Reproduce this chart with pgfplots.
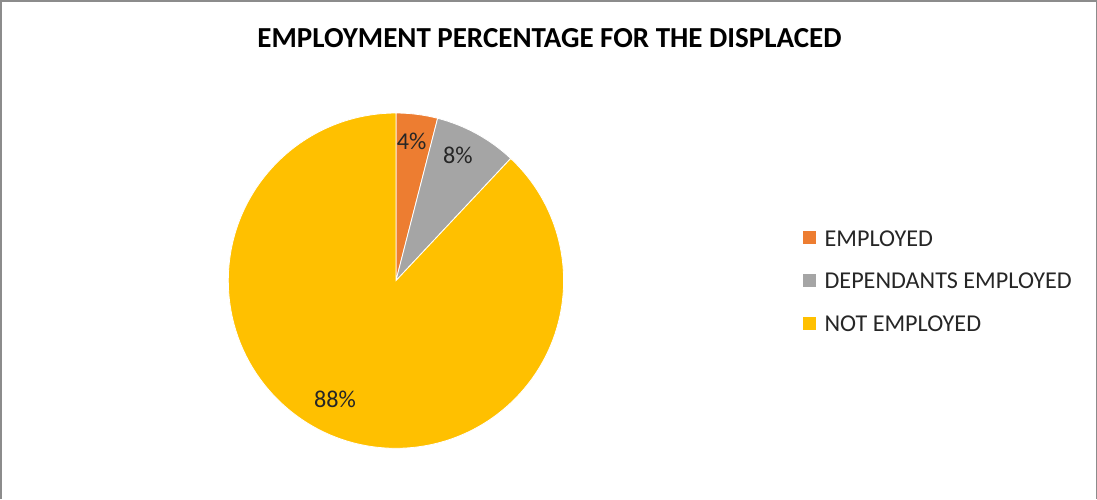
\documentclass[border=0pt]{standalone}
\usepackage{pgfplots}
\usepackage{pgfplotstable}
\pgfplotsset{compat=1.18}
\usepackage{fontspec}
\setmainfont{Carlito}
\definecolor{cOrange}{HTML}{ED7D31}
\definecolor{cGrey}{HTML}{A5A5A5}
\definecolor{cYellow}{HTML}{FFC000}
\definecolor{cText}{HTML}{262626}
\definecolor{cFrame}{HTML}{8C8C8C}
\pgfplotstableread[col sep=comma]{
label,value
EMPLOYED,4
DEPENDANTS EMPLOYED,8
NOT EMPLOYED,88
}\piedata
\begin{document}
\begin{tikzpicture}
\pgfplotstablegetelem{0}{value}\of\piedata \let\va\pgfplotsretval
\pgfplotstablegetelem{1}{value}\of\piedata \let\vb\pgfplotsretval
\pgfplotstablegetelem{2}{value}\of\piedata \let\vc\pgfplotsretval
\pgfmathsetmacro\total{\va+\vb+\vc}
\pgfmathsetmacro\aA{90-\va/\total*360}
\pgfmathsetmacro\aB{\aA-\vb/\total*360}
\pgfmathsetmacro\aC{\aB-\vc/\total*360}
\begin{axis}[scale only axis, width=1097bp, height=501bp,
  xmin=0, xmax=1097, ymin=0, ymax=501, y dir=reverse,
  axis lines=none, clip=false]
% frame
\draw[cFrame, line width=1.5bp] (axis cs:7,501) -- (axis cs:7,6) -- (axis cs:1095,6) -- (axis cs:1095,501);
% title
\node[font=\fontsize{28.8bp}{32bp}\selectfont\bfseries, text=black] at (axis cs:552,43) {EMPLOYMENT PERCENTAGE FOR THE DISPLACED};
% slices
\fill[cOrange, draw=white, line width=0.8bp] (axis cs:399.5,284) -- ++(90:166.5bp) arc[start angle=90, end angle=\aA, radius=166.5bp] -- cycle;
\fill[cGrey, draw=white, line width=0.8bp] (axis cs:399.5,284) -- ++(\aA:166.5bp) arc[start angle=\aA, end angle=\aB, radius=166.5bp] -- cycle;
\fill[cYellow, draw=white, line width=0.8bp] (axis cs:399.5,284) -- ++(\aB:166.5bp) arc[start angle=\aB, end angle=\aC, radius=166.5bp] -- cycle;
% data labels
\node[font=\fontsize{24bp}{28bp}\selectfont, text=cText] at (axis cs:415,146) {\va\%};
\node[font=\fontsize{24bp}{28bp}\selectfont, text=cText] at (axis cs:461,160) {\vb\%};
\node[font=\fontsize{24bp}{28bp}\selectfont, text=cText] at (axis cs:339,402) {\vc\%};
% legend
\fill[cOrange] (axis cs:804,235) rectangle (axis cs:817,248);
\fill[cGrey] (axis cs:804,277) rectangle (axis cs:817,290);
\fill[cYellow] (axis cs:804,320) rectangle (axis cs:817,333);
\node[anchor=west, inner sep=0pt, font=\fontsize{24bp}{28bp}\selectfont, text=cText] at (axis cs:825,242) {EMPLOYED};
\node[anchor=west, inner sep=0pt, font=\fontsize{24bp}{28bp}\selectfont, text=cText] at (axis cs:825,284) {DEPENDANTS EMPLOYED};
\node[anchor=west, inner sep=0pt, font=\fontsize{24bp}{28bp}\selectfont, text=cText] at (axis cs:825,327) {NOT EMPLOYED};
\end{axis}
\end{tikzpicture}
\end{document}
